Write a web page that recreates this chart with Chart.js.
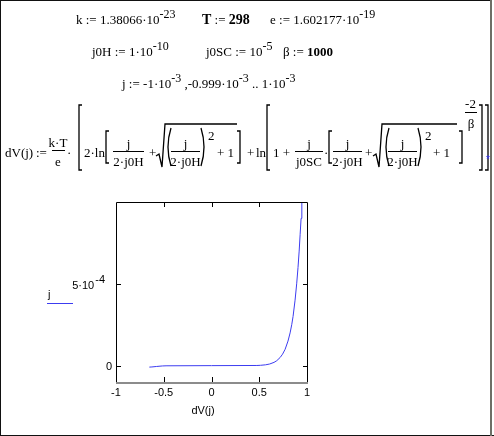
<!DOCTYPE html>
<html>
<head>
<meta charset="utf-8">
<script src="https://cdn.jsdelivr.net/npm/chart.js@4/dist/chart.umd.min.js"></script>
<style>
  html, body { margin: 0; padding: 0; background: #fff; }
  #sheet { position: relative; width: 494px; height: 436px; overflow: hidden; background: #fff; }
  #sheet svg, #sheet canvas { position: absolute; left: 0; top: 0; }
  #sheet svg { will-change: transform; }
  .m { font-family: 'Liberation Serif', 'Times New Roman', serif; font-size: 13px; fill: #000; }
  .c { text-anchor: middle; }
  .s { font-family: 'Liberation Sans', Arial, sans-serif; font-size: 11px; fill: #000; }
  .br { fill: none; stroke: #000; stroke-width: 1.3; }
  .ln { stroke: #000; stroke-width: 1; }
</style>
</head>
<body>
<div id="sheet">
<svg width="494" height="436" xmlns="http://www.w3.org/2000/svg">
  <!-- worksheet frame -->
  <line x1="0" y1="0.5" x2="492" y2="0.5" stroke="#111" stroke-width="1"/>
  <line x1="0.5" y1="0" x2="0.5" y2="436" stroke="#111" stroke-width="1"/>
  <line x1="0" y1="435.5" x2="494" y2="435.5" stroke="#111" stroke-width="1"/>
  <line x1="491" y1="0" x2="491" y2="436" stroke="#6e6e66" stroke-width="2"/>

  <!-- definitions -->
  <text class="m" x="76" y="24">k := 1.38066·10<tspan dy="-6" font-size="12">-23</tspan></text>
  <text class="m" x="202" y="24"><tspan font-weight="bold" font-size="14">T</tspan> := <tspan font-weight="bold" font-size="14">298</tspan></text>
  <text class="m" x="270" y="24">e := 1.602177·10<tspan dy="-6" font-size="12">-19</tspan></text>

  <text class="m" x="92" y="56">j0H := 1·10<tspan dy="-6" font-size="12">-10</tspan></text>
  <text class="m" x="206" y="56">j0SC := 10<tspan dy="-6" font-size="12">-5</tspan></text>
  <text class="m" x="283" y="56">β := <tspan font-weight="bold">1000</tspan></text>

  <text class="m" x="122" y="88">j := -1·10<tspan dy="-6" font-size="12">-3</tspan><tspan dy="6"> ,-0.999·10</tspan><tspan dy="-6" font-size="12">-3</tspan><tspan dy="6"> .. 1·10</tspan><tspan dy="-6" font-size="12">-3</tspan></text>

  <!-- dV(j) definition -->
  <text class="m" x="5" y="157">dV(j)</text>
  <text class="m" x="36" y="157">:=</text>
  <text class="m c" x="58" y="147">k·T</text>
  <line class="ln" x1="52" y1="150.5" x2="65" y2="150.5"/>
  <text class="m c" x="58" y="166">e</text>
  <text class="m" x="67" y="157">·</text>
  <path class="br" d="M82,105 L79,105 L79,170 L82,170"/>
  <text class="m" x="84" y="157">2·ln</text>
  <path class="br" d="M109,131 L106,131 L106,163 L109,163"/>
  <text class="m c" x="128.5" y="148">j</text>
  <line class="ln" x1="113" y1="151.5" x2="144" y2="151.5"/>
  <text class="m c" x="128.5" y="166">2·j0H</text>
  <text class="m" x="149" y="157">+</text>
  <path class="br" d="M156,156 L159,154 L162,167 L165,124 L237,124"/>
  <path class="br" d="M171,128 Q165,147 171,166"/>
  <text class="m c" x="185.5" y="148">j</text>
  <line class="ln" x1="171" y1="151.5" x2="200" y2="151.5"/>
  <text class="m c" x="185.5" y="166">2·j0H</text>
  <path class="br" d="M201,128 Q207,147 201,166"/>
  <text class="m" x="208" y="140" font-size="12">2</text>
  <text class="m" x="217" y="157">+ 1</text>
  <path class="br" d="M237,131 L240,131 L240,163 L237,163"/>
  <text class="m" x="247" y="157">+</text>
  <text class="m" x="256" y="157">ln</text>
  <path class="br" d="M270,105 L267,105 L267,170 L270,170"/>
  <text class="m" x="273" y="157">1 +</text>
  <text class="m c" x="309" y="148">j</text>
  <line class="ln" x1="295" y1="151.5" x2="323" y2="151.5"/>
  <text class="m c" x="309" y="166">j0SC</text>
  <text class="m" x="324" y="157">·</text>
  <path class="br" d="M332,131 L329,131 L329,163 L332,163"/>
  <text class="m c" x="347.5" y="148">j</text>
  <line class="ln" x1="333" y1="151.5" x2="362" y2="151.5"/>
  <text class="m c" x="347.5" y="166">2·j0H</text>
  <text class="m" x="365" y="157">+</text>
  <path class="br" d="M373,156 L376,154 L379,167 L382,124 L457,124"/>
  <path class="br" d="M389,128 Q383,147 389,166"/>
  <text class="m c" x="402.5" y="148">j</text>
  <line class="ln" x1="388" y1="151.5" x2="417" y2="151.5"/>
  <text class="m c" x="402.5" y="166">2·j0H</text>
  <path class="br" d="M418,128 Q424,147 418,166"/>
  <text class="m" x="425" y="140" font-size="12">2</text>
  <text class="m" x="433" y="157">+ 1</text>
  <path class="br" d="M459,131 L462,131 L462,163 L459,163"/>
  <text class="m c" x="470.5" y="108" font-size="12">-2</text>
  <line class="ln" x1="465" y1="112.5" x2="477" y2="112.5"/>
  <text class="m c" x="471" y="128" font-size="12">β</text>
  <path class="br" d="M479,105 L482,105 L482,170 L479,170"/>
  <path class="br" d="M485,105 L488,105 L488,170 L485,170"/>
  <text x="486" y="163" font-family="Liberation Sans, Arial, sans-serif" font-size="10" fill="#3030ff">*</text>

  <!-- plot legend and axis name -->
  <text class="s" x="48" y="298">j</text>
  <line x1="47" y1="303.5" x2="73" y2="303.5" stroke="#3c3cf0" stroke-width="1"/>
  <text class="s c" x="203" y="414">dV(j)</text>
</svg>
<canvas id="plot" width="494" height="436"></canvas>
</div>

<script>
// curve: j against dV(j)
const jValues = [-9e-6, -8e-6, -5e-6, -2e-6, -1e-6, 0, 1e-6, 2e-6, 5e-6, 1e-5, 2e-5, 3e-5, 5e-5, 7e-5,
                 1e-4, 1.5e-4, 2e-4, 2.5e-4, 3e-4, 4e-4, 5e-4, 6e-4, 7e-4, 8e-4, 9e-4, 1e-3];
const dVValues = [-0.651, -0.624, -0.574, -0.515, -0.476, 0.0, 0.475, 0.513, 0.566, 0.609, 0.655, 0.683, 0.719, 0.744,
                  0.771, 0.801, 0.823, 0.840, 0.854, 0.875, 0.892, 0.906, 0.918, 0.928, 0.938, 0.946];

const xRange = [-1, 1];
const yRange = [-1e-4, 1e-3];
const xTickMarks = [-0.5, 0, 0.5];
const yTickMarks = [0, 5e-4];
const yTickLabels = [["0", ""], ["5·10", "-4"]];

const points = jValues.map((j, i) => ({x: dVValues[i], y: j}));

// Mathcad-style box: inside tick marks, grey x axis line, y labels with exponent
const frame = {
  id: 'frame',
  afterDatasetsDraw(chart) {
    const {ctx, chartArea: a, scales: {x, y}} = chart;
    ctx.save();
    ctx.strokeStyle = '#000';
    ctx.lineWidth = 1;
    ctx.beginPath();
    ctx.moveTo(a.left + 0.5, a.bottom);
    ctx.lineTo(a.left + 0.5, a.top + 0.5);
    ctx.lineTo(a.right + 0.5, a.top + 0.5);
    ctx.lineTo(a.right + 0.5, a.bottom);
    ctx.stroke();

    ctx.strokeStyle = '#8c8c8c';
    ctx.lineWidth = 2;
    ctx.beginPath();
    ctx.moveTo(a.left, a.bottom + 1);
    ctx.lineTo(a.right + 1, a.bottom + 1);
    ctx.stroke();

    ctx.strokeStyle = '#000';
    ctx.lineWidth = 1;
    ctx.beginPath();
    xTickMarks.forEach(v => {
      const px = Math.round(x.getPixelForValue(v)) + 0.5;
      ctx.moveTo(px, a.top); ctx.lineTo(px, a.top + 5);
      ctx.moveTo(px, a.bottom); ctx.lineTo(px, a.bottom - 5);
    });
    yTickMarks.forEach(v => {
      const py = Math.round(y.getPixelForValue(v)) + 0.5;
      ctx.moveTo(a.left, py); ctx.lineTo(a.left + 5, py);
      ctx.moveTo(a.right + 1, py); ctx.lineTo(a.right - 4, py);
    });
    ctx.stroke();

    ctx.fillStyle = '#000';
    ctx.textBaseline = 'alphabetic';
    ctx.font = "11px 'Liberation Sans', Arial, sans-serif";
    yTickMarks.forEach((v, i) => {
      const py = y.getPixelForValue(v);
      const [base, sup] = yTickLabels[i];
      ctx.textAlign = 'right';
      if (!sup) {
        ctx.fillText(base, a.left - 4, py + 4);
      } else {
        const supW = ctx.measureText(sup).width;
        const right = a.left - 11;
        ctx.fillText(sup, right, py - 1);
        ctx.fillText(base, right - supW - 1, py + 5);
      }
    });
    ctx.restore();
  }
};

Chart.defaults.font.family = "'Liberation Sans', Arial, sans-serif";
Chart.defaults.font.size = 11;
Chart.defaults.color = '#000';

new Chart(document.getElementById('plot'), {
  type: 'line',
  data: {
    datasets: [{
      label: 'j',
      data: points,
      borderColor: '#3c3cf0',
      borderWidth: 1,
      pointRadius: 0,
      tension: 0,
      fill: false
    }]
  },
  options: {
    responsive: false,
    animation: false,
    devicePixelRatio: 1,
    layout: {padding: {left: 116, top: 202, right: 187, bottom: 30}},
    plugins: {legend: {display: false}, tooltip: {enabled: false}},
    scales: {
      x: {
        type: 'linear',
        min: xRange[0],
        max: xRange[1],
        grid: {display: false, drawTicks: false},
        border: {display: false},
        ticks: {
          stepSize: 0.5,
          autoSkip: false,
          maxRotation: 0,
          padding: 4,
          callback: v => String(v)
        },
        afterFit: s => { s.height = 24; }
      },
      y: {
        type: 'linear',
        display: false,
        min: yRange[0],
        max: yRange[1]
      }
    }
  },
  plugins: [frame]
});
</script>
</body>
</html>
